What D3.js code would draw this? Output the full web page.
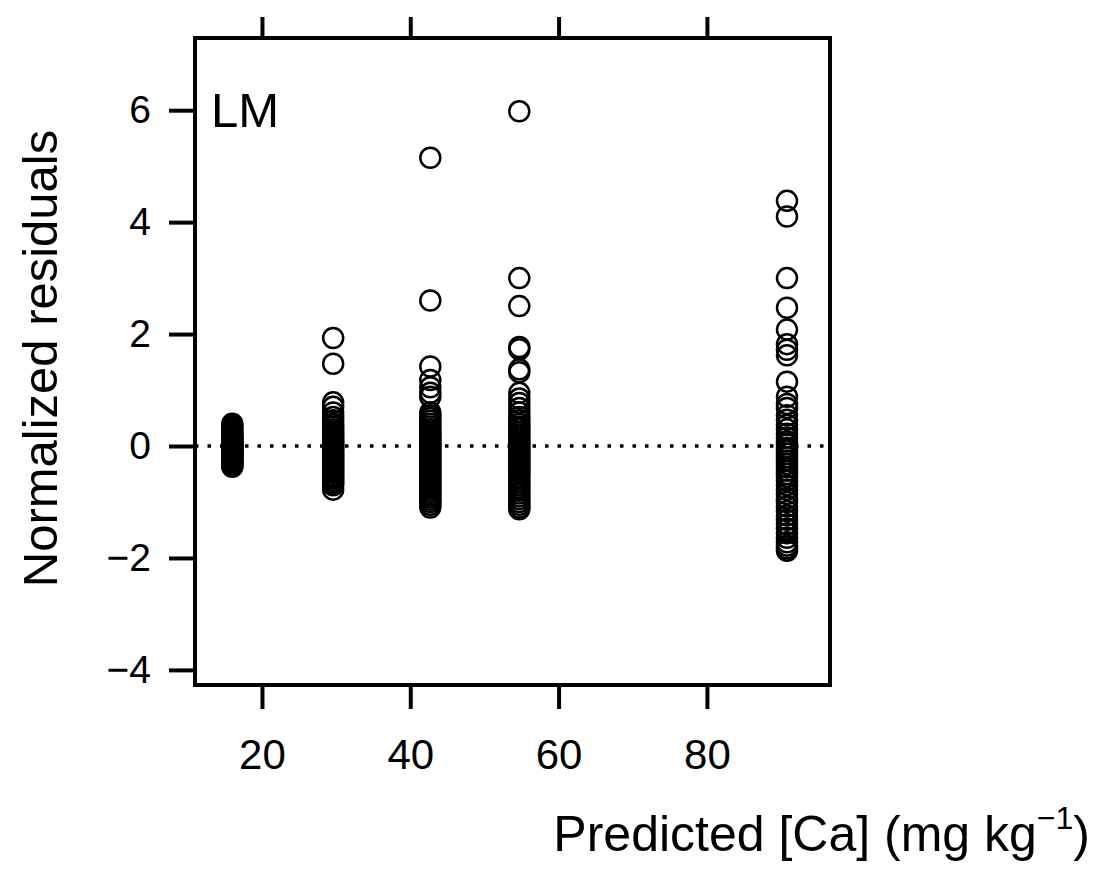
<!DOCTYPE html>
<html>
<head>
<meta charset="utf-8">
<script src="https://cdn.jsdelivr.net/npm/d3@7"></script>
<style>
  html, body { margin: 0; padding: 0; background: #fff; }
  svg { display: block; font-family: "Liberation Sans", Arial, sans-serif; }
</style>
</head>
<body>
<script>
// Predicted [Ca] level of each group (x position of each column of points)
const predictedLevels = [16.0, 29.6, 42.7, 54.7, 90.8];

// Normalized residuals per group
const residuals16 = [0.4, 0.36, 0.32, 0.28, 0.25, 0.22, 0.19, 0.16, 0.14, 0.12, 0.1, 0.08,
  0.06, 0.04, 0.02, 0.01, 0, -0.01, -0.02, -0.04, -0.05, -0.07, -0.08, -0.1, -0.11, -0.13,
  -0.15, -0.17, -0.19, -0.21, -0.23, -0.25, -0.27, -0.29, -0.31, -0.33, -0.35, -0.37];
const residuals30 = [1.93, 1.47, 0.78, 0.7, 0.6, 0.52, 0.46, 0.4, 0.35, 0.3, 0.26, 0.22, 0.18,
  0.14, 0.1, 0.07, 0.04, 0.01, -0.02, -0.05, -0.08, -0.12, -0.15, -0.18, -0.22, -0.25, -0.28,
  -0.32, -0.35, -0.38, -0.42, -0.45, -0.48, -0.52, -0.55, -0.58, -0.62, -0.66, -0.7, -0.78];
const residuals43 = [5.15, 2.6, 1.42, 1.18, 1.05, 0.95, 0.88, 0.6, 0.55, 0.5, 0.45, 0.4, 0.35,
  0.3, 0.26, 0.22, 0.18, 0.14, 0.1, 0.06, 0.03, 0, -0.04, -0.08, -0.12, -0.16, -0.2, -0.24,
  -0.28, -0.32, -0.36, -0.4, -0.44, -0.48, -0.52, -0.56, -0.6, -0.64, -0.68, -0.72, -0.76,
  -0.8, -0.84, -0.88, -0.92, -0.96, -1.0, -1.05, -1.1];
const residuals55 = [5.98, 3.0, 2.5, 1.77, 1.73, 1.37, 1.32, 0.95, 0.85, 0.77, 0.68, 0.6, 0.52,
  0.46, 0.4, 0.35, 0.3, 0.25, 0.2, 0.15, 0.1, 0.06, 0.02, -0.02, -0.06, -0.1, -0.14, -0.18,
  -0.22, -0.26, -0.3, -0.34, -0.38, -0.42, -0.46, -0.5, -0.55, -0.6, -0.65, -0.7, -0.75, -0.8,
  -0.85, -0.9, -0.95, -1.0, -1.05, -1.1, -1.13];
const residuals91 = [4.38, 4.1, 3.0, 2.47, 2.08, 1.82, 1.72, 1.62, 1.15, 0.88, 0.75, 0.68,
  0.55, 0.47, 0.38, 0.3, 0.22, 0.15, 0.08, 0.03, -0.03, -0.08, -0.14, -0.2, -0.26, -0.32,
  -0.38, -0.44, -0.5, -0.56, -0.62, -0.7, -0.78, -0.86, -0.94, -1.0, -1.08, -1.16, -1.24,
  -1.32, -1.4, -1.48, -1.56, -1.64, -1.72, -1.78, -1.83, -1.87];

const residualGroups = [residuals16, residuals30, residuals43, residuals55, residuals91];

const xTicks = [20, 40, 60, 80];
const yTicks = [-4, -2, 0, 2, 4, 6];

const panelLabel = "LM";
const yTitle = "Normalized residuals";

// Flatten groups into {x, y} points
const points = [];
residualGroups.forEach((group, i) => {
  group.forEach((r) => points.push({ x: predictedLevels[i], y: r }));
});

const width = 1097, height = 869;
const box = { left: 195, right: 830, top: 38, bottom: 685 };

const svg = d3.select("body")
  .append("svg")
  .attr("width", width)
  .attr("height", height)
  .attr("viewBox", `0 0 ${width} ${height}`);

const x = d3.scaleLinear().domain([10.97, 96.6]).range([box.left, box.right]);
const y = d3.scaleLinear().domain([-4.27, 7.29]).range([box.bottom, box.top]);

// Bottom axis: ticks hang below the box, labels below the ticks
const xAxis = svg.append("g")
  .attr("transform", `translate(0,${box.bottom})`)
  .call(d3.axisBottom(x).tickValues(xTicks).tickSize(24).tickPadding(30).tickFormat(d3.format("d")));

// Top axis: ticks only
const xAxisTop = svg.append("g")
  .attr("transform", `translate(0,${box.top})`)
  .call(d3.axisTop(x).tickValues(xTicks).tickSize(21).tickFormat(""));

// Left axis with R style minus signs
const yAxis = svg.append("g")
  .attr("transform", `translate(${box.left},0)`)
  .call(d3.axisLeft(y).tickValues(yTicks).tickSize(26).tickPadding(18)
    .tickFormat((d) => (d < 0 ? "\u2212" + Math.abs(d) : String(d))));

[xAxis, xAxisTop, yAxis].forEach((a) => {
  a.select(".domain").remove();
  a.selectAll(".tick line").attr("stroke", "#000").attr("stroke-width", 4);
  a.selectAll(".tick text").attr("fill", "#000");
});
xAxis.selectAll(".tick text").attr("font-size", 42);
yAxis.selectAll(".tick text").attr("font-size", 39);

// Plot frame
svg.append("rect")
  .attr("x", box.left)
  .attr("y", box.top)
  .attr("width", box.right - box.left)
  .attr("height", box.bottom - box.top)
  .attr("fill", "none")
  .attr("stroke", "#000")
  .attr("stroke-width", 4);

// Dotted reference line at zero
svg.append("line")
  .attr("x1", box.left)
  .attr("x2", box.right)
  .attr("y1", y(0))
  .attr("y2", y(0))
  .attr("stroke", "#000")
  .attr("stroke-width", 3.5)
  .attr("stroke-dasharray", "3.5 9");

// Residual points as open circles
svg.append("g")
  .selectAll("circle")
  .data(points)
  .enter()
  .append("circle")
  .attr("cx", (d) => x(d.x))
  .attr("cy", (d) => y(d.y))
  .attr("r", 10)
  .attr("fill", "none")
  .attr("stroke", "#000")
  .attr("stroke-width", 2.5);

// Panel label
svg.append("text")
  .attr("x", 211)
  .attr("y", 127)
  .attr("font-size", 49)
  .text(panelLabel);

// Y axis title
svg.append("text")
  .attr("transform", `translate(57,${(127 + 590) / 2}) rotate(-90)`)
  .attr("text-anchor", "middle")
  .attr("font-size", 49)
  .text(yTitle);

// X axis title with superscript exponent
const xt = svg.append("text")
  .attr("x", 1090)
  .attr("y", 851)
  .attr("text-anchor", "end")
  .attr("font-size", 50);
xt.append("tspan").text("Predicted [Ca] (mg kg");
xt.append("tspan").attr("dy", -22).attr("font-size", 32).text("\u22121");
xt.append("tspan").attr("dy", 22).text(")");
</script>
</body>
</html>
